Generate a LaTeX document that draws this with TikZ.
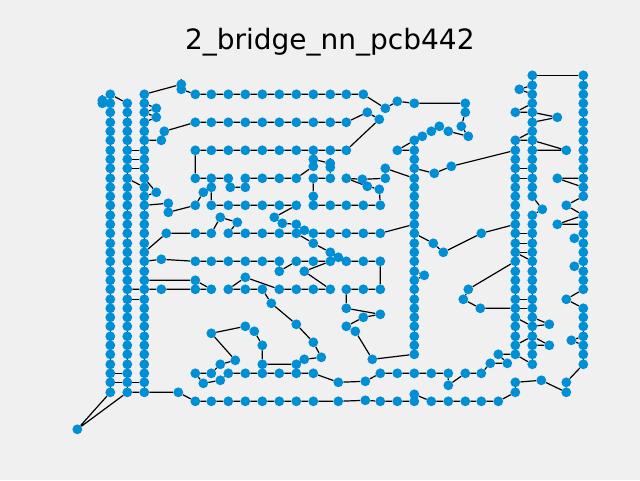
\documentclass[tikz,border=0pt]{standalone}
\usepackage{fontspec}
\newfontfamily\titlefont{DejaVu Sans}
\usepackage{xcolor}
\definecolor{figBg}{HTML}{F0F0F0}
\definecolor{padBlue}{HTML}{008FD5}
\usepackage{tikz}
\pgfdeclarelayer{board}
\pgfdeclarelayer{wires}
\pgfsetlayers{board,wires,main}
\tikzset{%
  padNode/.style={%
    circle,
    fill=padBlue,
    inner sep=0pt,
    minimum size=9.8pt
  },
  wire/.style={%
    black,
    line width=1.2pt
  }
}

\begin{document}
\begin{tikzpicture}[x=1pt,y=-1pt]
    \begin{pgfonlayer}{board}
      \fill[figBg] (-0.3,-0.3) rectangle (639.7,479.7);
    \end{pgfonlayer}
    \useasboundingbox (-0.3,-0.3) rectangle (639.7,479.7);
    \node[font=\titlefont\fontsize{28}{30}\selectfont] (title) at (329.5,42) {2\_bridge\_nn\_pcb442};

    % long vertical rails, neighbours joined
    \foreach \x/\ylist in {%
        110/{94,103,112,122,131,140,150,159,168,178,187,196,205,215,224,233,243,252,261,271,280,289,299,308,317,326,336,345,354,364,373,382,392},
        127/{103,112,122,131,140,150,159,168,178,187,196,205,215,224,233,243,252,261,271,280,289,299,308,317,326,336,345,354,364,373,382,392},
        144/{94,103,112,122,131,140,150,159,168,178,187,196,205,215,224,233,243,252,261,271,280,289,299,308,317,326,336,345,354,364,373,382,392},
        414/{103,140,150,159,168,178,187,196,205,215,224,233,243,252,261,271,280,289,299,308,317,326,336,345,354,373,394,401},
        515/{112,140,150,159,168,178,187,196,205,215,224,233,243,252,261,271,280,289,299,308,317,326,336,345,354,382,392},
        532/{75,85,94,103,112,122,131,140,150,159,168,178,187,196,215,224,233,243,252,261,271,280,289,299,308,317,326,336,345,354,364},
        583/{75,85,94,103,112,122,131,140,150,159,168,178,187,196,215,224,233,243,252,261,271,280,289,308,317,326,336,345,354,364}}{
      \foreach \y [count=\i, remember=\y as \prev] in \ylist {
        \node[padNode] (\x-\y) at (\x,\y) {};
        \ifnum\i>1
          \ifnum\numexpr\y-\prev\relax<11
            \begin{pgfonlayer}{wires}
              \draw[wire] (\x-\prev) -- (\x-\y);
            \end{pgfonlayer}
          \fi
        \fi
      }
    }

    % horizontal rows
    \foreach \y/\xlist in {%
        94/{195,211,228,245,262,279,296,313,330,346,363},
        122/{195,211,228,245,262,279,296,313,330,346},
        150/{195,211,228,245,262,279,296,313,330,346},
        178/{195,211,228,245,262,279,296,313,330,346,385},
        205/{195,211,228,245,262,279,296,313,330,346,363,380},
        233/{166,195,211,228,245,262,279,296,313,330,346,363,380},
        261/{195,211,228,245,262,279,296,313,330,346,363,380},
        289/{161,195,211,228,245,262,279,296,313,330,346,363,380},
        373/{195,211,228,245,262,279,296,313,380,397,431,448,465,481},
        401/{195,211,228,245,262,279,296,313,338,380,397,431,448,465,481,498}}{
      \foreach \x in \xlist
        \node[padNode] (\x-\y) at (\x,\y) {};
    }

    % loose pads
    \foreach \x/\y in {102/100,102/103,181/84,181/89,156/108,156/117,164/131,161/140,156/192,168/203,168/212,161/259,77/429,178/392,
        230/187,245/187,203/192,211/187,313/159,313/166,330/163,330/167,313/196,362/179,367/186,379/189,385/168,367/112,379/119,385/108,397/101,397/150,
        465/103,465/112,461/126,468/136,448/131,439/126,431/131,422/136,434/173,451/166,274/217,282/223,296/224,304/230,220/217,237/222,
        313/243,330/252,338/257,279/271,304/271,245/277,195/280,271/303,296/324,313/342,321/357,304/359,296/364,262/364,262/345,254/331,245/326,211/333,
        235/360,220/364,203/383,220/380,338/382,365/381,448/385,490/363,507/363,498/354,346/308,380/314,363/317,346/326,355/331,372/359,365/400,
        424/275,433/243,443/252,481/233,468/289,463/299,480/308,519/89,557/117,566/150,557/178,542/209,566/205,557/224,574/238,574/266,566/299,
        549/324,549/345,571/340,541/380,566/382,566/392}
      \node[padNode] (\x-\y) at (\x,\y) {};

    \begin{pgfonlayer}{wires}
    % left block
    \draw[wire] (110-94) -- (127-103);
    \draw[wire] (110-94) -- (102-100) -- (102-103) -- (110-103);
    \draw[wire] (144-103) -- (156-108) -- (144-112) -- (156-117) -- (144-122);
    \draw[wire] (127-150) -- (144-150);
    \draw[wire] (127-159) -- (144-159);
    \draw[wire] (127-168) -- (144-168);
    \draw[wire] (127-178) -- (144-187);
    \draw[wire] (144-178) -- (156-192) -- (144-196);
    \draw[wire] (127-299) -- (144-299);
    \draw[wire] (110-373) -- (127-373);
    \draw[wire] (110-382) -- (127-382) -- (144-382);
    \draw[wire] (110-392) -- (77-429) -- (127-392) -- (144-392) -- (178-392) -- (195-401) -- (211-401) -- (228-401) -- (245-401) -- (262-401) -- (279-401) -- (296-401) -- (313-401) -- (338-401) -- (365-400) -- (380-401) -- (397-401) -- (414-401);
    \draw[wire] (414-394) -- (431-401) -- (448-401) -- (465-401) -- (481-401) -- (498-401) -- (515-392);
    \draw[wire] (515-382) -- (541-380) -- (566-392) -- (566-382) -- (583-364);

    % top rows
    \draw[wire] (144-94) -- (181-84) -- (181-89) -- (195-94) -- (211-94) -- (228-94) -- (245-94) -- (262-94) -- (279-94) -- (296-94) -- (313-94) -- (330-94) -- (346-94) -- (363-94) -- (385-108) -- (397-101) -- (414-103) -- (465-103) -- (465-112) -- (461-126) -- (468-136) -- (448-131) -- (439-126) -- (431-131) -- (422-136) -- (414-140);
    \draw[wire] (144-140) -- (161-140) -- (164-131) -- (195-122) -- (211-122) -- (228-122) -- (245-122) -- (262-122) -- (279-122) -- (296-122) -- (313-122) -- (330-122) -- (346-122) -- (367-112) -- (379-119) -- (346-150) -- (330-150) -- (313-150) -- (296-150) -- (279-150) -- (262-150) -- (245-150) -- (228-150) -- (211-150) -- (195-150) -- (195-178) -- (211-178) -- (228-178) -- (230-187) -- (245-187) -- (245-178) -- (262-178) -- (279-178) -- (296-178) -- (313-166) -- (313-159) -- (330-163) -- (330-167) -- (330-178) -- (313-178) -- (313-196) -- (313-205) -- (330-205) -- (346-205) -- (363-205) -- (380-205) -- (379-189) -- (367-186) -- (346-178) -- (362-179) -- (385-178) -- (385-168) -- (414-178);
    \draw[wire] (313-150) -- (313-159);
    \draw[wire] (414-140) -- (397-150) -- (414-150);
    \draw[wire] (414-168) -- (434-173) -- (451-166) -- (515-150);

    % middle rows
    \draw[wire] (211-178) -- (211-187) -- (211-205) -- (228-205) -- (245-205) -- (262-205) -- (279-205) -- (296-205) -- (274-217) -- (282-223) -- (296-224) -- (304-230) -- (313-233) -- (330-233) -- (346-233) -- (363-233) -- (380-233) -- (414-224);
    \draw[wire] (211-187) -- (203-192) -- (195-205) -- (168-212) -- (168-203) -- (144-205);
    \draw[wire] (144-252) -- (166-233) -- (195-233) -- (211-233) -- (220-217) -- (237-222) -- (228-233) -- (245-233) -- (262-233) -- (279-233) -- (296-233) -- (313-243) -- (330-252) -- (338-257) -- (346-261) -- (363-261) -- (380-261) -- (380-289) -- (363-289) -- (346-289) -- (346-308) -- (380-314) -- (363-317) -- (346-326) -- (355-331) -- (372-359) -- (414-354);
    \draw[wire] (144-261) -- (161-259) -- (195-261) -- (211-261) -- (228-261) -- (245-261) -- (262-261) -- (279-261) -- (279-271) -- (296-261) -- (313-261) -- (330-261) -- (304-271) -- (330-289) -- (313-289) -- (296-289) -- (279-289) -- (245-277) -- (228-289) -- (245-289) -- (262-289) -- (271-303) -- (296-324) -- (313-342) -- (321-357) -- (304-359) -- (296-364) -- (262-364) -- (262-345) -- (254-331) -- (245-326) -- (211-333) -- (235-360) -- (220-364) -- (211-373) -- (195-373) -- (203-383) -- (220-380) -- (228-373) -- (245-373) -- (262-373) -- (279-373) -- (296-373) -- (313-373) -- (338-382) -- (365-381) -- (380-373) -- (397-373) -- (414-373) -- (431-373) -- (448-373) -- (448-385) -- (465-373) -- (481-373) -- (490-363) -- (507-363) -- (498-354) -- (515-354) -- (532-364);
    \draw[wire] (144-280) -- (195-280) -- (211-289) -- (195-289) -- (161-289) -- (144-289) -- (127-289);
    \draw[wire] (414-233) -- (433-243) -- (443-252) -- (481-233) -- (515-224);

    % right block
    \draw[wire] (532-75) -- (583-75);
    \draw[wire] (532-103) -- (515-112) -- (532-112) -- (557-117) -- (532-122);
    \draw[wire] (532-131) -- (515-140) -- (532-140) -- (566-150) -- (532-150);
    \draw[wire] (515-168) -- (532-168);
    \draw[wire] (515-178) -- (532-178);
    \draw[wire] (583-178) -- (557-178) -- (583-187);
    \draw[wire] (532-196) -- (542-209) -- (532-215);
    \draw[wire] (583-196) -- (566-205) -- (583-215) -- (557-224) -- (583-224);
    \draw[wire] (515-233) -- (532-233);
    \draw[wire] (515-243) -- (532-243);
    \draw[wire] (515-252) -- (532-252);
    \draw[wire] (515-252) -- (532-261);
    \draw[wire] (515-261) -- (468-289) -- (463-299) -- (480-308) -- (515-308);
    \draw[wire] (515-299) -- (532-299);
    \draw[wire] (515-308) -- (532-308);
    \draw[wire] (515-317) -- (532-326) -- (549-324) -- (532-317);
    \draw[wire] (515-345) -- (532-336) -- (549-345) -- (532-345);
    \draw[wire] (583-233) -- (574-238) -- (583-243);
    \draw[wire] (583-261) -- (574-266) -- (583-271);
    \draw[wire] (583-289) -- (566-299) -- (583-308);
    \draw[wire] (583-336) -- (571-340) -- (583-345);
    \draw[wire] (532-85) -- (519-89) -- (532-94);
    \draw[wire] (414-271) -- (424-275) -- (414-280);
    \end{pgfonlayer}
\end{tikzpicture}
\end{document}
